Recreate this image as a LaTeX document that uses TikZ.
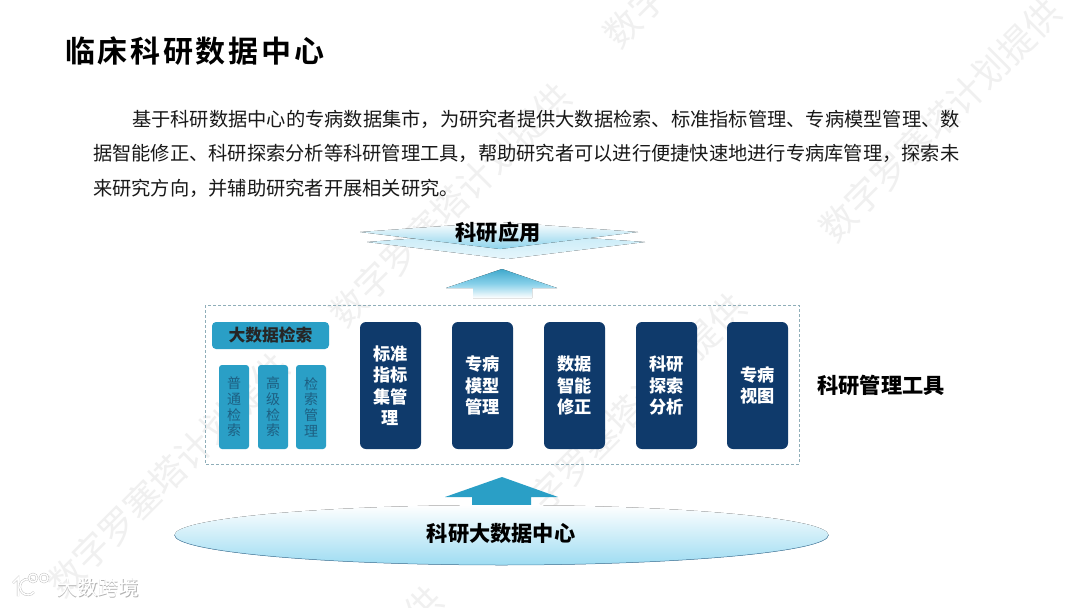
\documentclass[tikz,border=0pt]{standalone}
\usepackage{fontspec}
\setmainfont{Noto Sans CJK SC}
\newfontfamily\titlefont[LetterSpace=9,BoldFont={Noto Sans CJK SC Bold}]{Noto Sans CJK SC}
\usetikzlibrary{shadings}
\definecolor{darkbox}{HTML}{0F3A6B}
\definecolor{tealbox}{HTML}{2A9FC6}
\definecolor{teallight}{HTML}{9EDCF2}
\definecolor{subtext}{HTML}{1D5F82}
\tikzset{
  wmark/.style={text=black!6,rotate=45,font=\fontsize{36}{36}\selectfont,inner sep=0pt},
  bodyline/.style={anchor=west,inner sep=0pt,text=black!90,font=\fontsize{19.25}{20}\selectfont},
  toolbox/.style={fill=darkbox,rounded corners=6pt,minimum width=61pt,minimum height=127pt,inner sep=0pt,
    text=white,align=center,font=\bfseries\fontsize{17.2}{21.5}\selectfont},
  subbox/.style={fill=tealbox,rounded corners=3pt,minimum width=30pt,minimum height=84pt,inner sep=0pt,
    text=subtext,align=center,font=\fontsize{14}{15.7}\selectfont},
  biglabel/.style={inner sep=0pt,text=black,font=\bfseries\fontsize{21.2}{23}\selectfont},
  logostroke/.style={draw=gray!55,double=white,double distance=1.5pt,line width=0.4pt},
}
\begin{document}
\begin{tikzpicture}[x=1pt,y=-1pt]
\useasboundingbox (0,0) rectangle (1080,608);
\fill[white] (0,0) rectangle (1080,608);
\clip (0,0) rectangle (1080,608);

% watermark lines
\node[wmark] (wm1) at (940,120) {数字罗塞塔计划提供};
\node[wmark] (wm2) at (450,205) {数字罗塞塔计划提供};
\node[wmark] (wm3) at (625,415) {数字罗塞塔计划提供};
\node[wmark] (wm4) at (168,475) {数字罗塞塔计划提供};
\node[wmark] (wm5) at (322,708) {数字罗塞塔计划提供};
\node[wmark] (wm6) at (724,-74) {数字罗塞塔计划提供};

% title and text
\node[anchor=west,inner sep=0pt,text=black] (title) at (65,51)
  {\titlefont\bfseries\fontsize{30}{32}\selectfont 临床科研数据中心};
\node[bodyline] (line1) at (132,119) {基于科研数据中心的专病数据集市，为研究者提供大数据检索、标准指标管理、专病模型管理、数};
\node[bodyline] (line2) at (93,153) {据智能修正、科研探索分析等科研管理工具，帮助研究者可以进行便捷快速地进行专病库管理，探索未};
\node[bodyline] (line3) at (93,188) {来研究方向，并辅助研究者开展相关研究。};

% top banner
\fill[top color=teallight!60,bottom color=teallight!25] (367,242) -- (500,232) -- (645,242) -- (507,259) -- cycle;
\fill[top color=white,bottom color=teallight!85!tealbox] (360,232) -- (500,222) -- (638,232) -- (500,249) -- cycle;
\node[biglabel] (apply) at (498,232) {科研应用};

% upper arrow
\fill[top color=tealbox!90,bottom color=white,middle color=teallight!80!tealbox] (502,269) -- (557,288) -- (532,288) -- (532,298) -- (473,298) -- (473,288) -- (446,288) -- cycle;

% tool area
\draw[gray!50!teallight,densely dashed,line width=0.8pt] (205,305) rectangle (799,464);
\node[fill=tealbox,rounded corners=4pt,minimum width=117pt,minimum height=27pt,inner sep=0pt,text=black!85,
  font=\bfseries\fontsize{16.8}{17}\selectfont] (search) at (270.5,335.5) {大数据检索};
\node[subbox] (sub1) at (234,407) {普\\通\\检\\索};
\node[subbox] (sub2) at (273,407) {高\\级\\检\\索};
\node[subbox] (sub3) at (311,407) {检\\索\\管\\理};
\node[toolbox] (tool1) at (390.5,385.5) {标准\\指标\\集管\\理};
\node[toolbox] (tool2) at (482.5,385.5) {专病\\模型\\管理};
\node[toolbox] (tool3) at (574.5,385.5) {数据\\智能\\修正};
\node[toolbox] (tool4) at (666.5,385.5) {科研\\探索\\分析};
\node[toolbox] (tool5) at (757.5,385.5) {专病\\视图};
\node[biglabel] (tools) at (881,385) {科研管理工具};

% lower arrow
\fill[tealbox] (502,477) -- (558,497) -- (531,497) -- (531,509) -- (472,509) -- (472,497) -- (445,497) -- cycle;

% data centre
\fill[top color=white,bottom color=teallight] (501.5,535) ellipse (327 and 30);
\draw[teallight!50!darkbox,line width=0.5pt] (174.5,535) arc[start angle=180,end angle=0,x radius=327,y radius=30];
\node[biglabel] (centre) at (501,534) {科研大数据中心};

% logo bottom left
\draw[logostroke] (13,583) -- (18,578) -- (18,596);
\draw[logostroke] (34,592) arc[start angle=40,end angle=320,radius=8];
\draw[logostroke] (33,578) circle (4) (44,578) circle (4);
\node[inner sep=0pt,text=gray!60,font=\fontsize{20.5}{22}\selectfont] (logoshade) at (98.7,588.7) {大数跨境};
\node[inner sep=0pt,text=white,font=\fontsize{20.5}{22}\selectfont] (logo) at (98,588) {大数跨境};
\end{tikzpicture}
\end{document}
